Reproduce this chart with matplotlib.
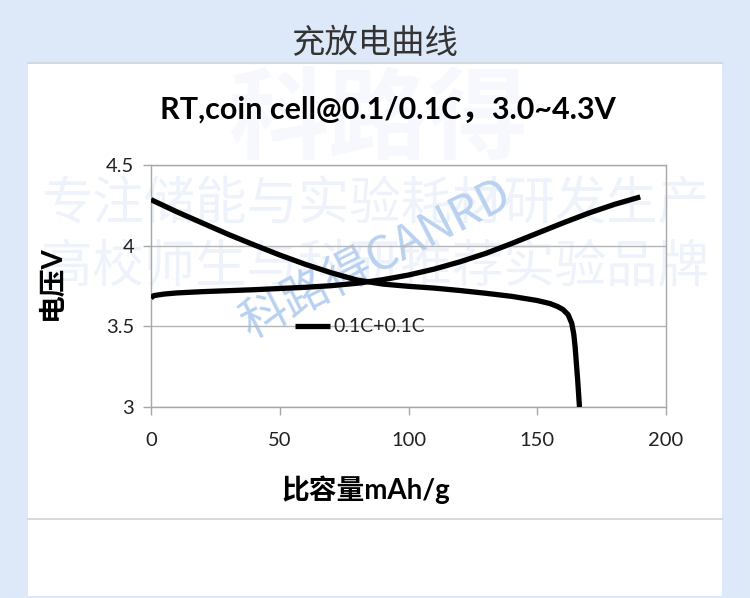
import matplotlib
matplotlib.use("Agg")
import matplotlib.pyplot as plt
from matplotlib.patches import Rectangle
from matplotlib.lines import Line2D

# ---- data ----
charge_cap = [0, 1, 5, 10, 20, 40, 60, 70, 80, 90, 100, 110, 120, 130, 140, 150, 160, 170,
              180, 190]
charge_v = [3.675, 3.69, 3.70, 3.707, 3.715, 3.727, 3.742, 3.752, 3.767, 3.789, 3.818,
            3.855, 3.90, 3.952, 4.013, 4.077, 4.141, 4.202, 4.256, 4.302]

discharge_cap = [0, 10, 20, 30, 40, 50, 60, 70, 80, 90, 100, 110, 120, 130, 140, 150, 155,
                 158, 160, 162, 163.4, 164.2, 164.7, 165.2, 165.7, 166.4]
discharge_v = [4.285, 4.21, 4.14, 4.07, 4.005, 3.942, 3.884, 3.832, 3.787, 3.762, 3.748,
               3.737, 3.722, 3.705, 3.686, 3.660, 3.641, 3.622, 3.604, 3.572, 3.519, 3.45,
               3.374, 3.27, 3.167, 3.0]

x_ticks = [0, 50, 100, 150, 200]
y_ticks = [3, 3.5, 4, 4.5]
y_tick_labels = ["3", "3.5", "4", "4.5"]
series_label = "0.1C+0.1C"

page_title = "充放电曲线"
chart_title = "RT,coin cell@0.1/0.1C，3.0~4.3V"
x_label = "比容量mAh/g"
y_label = "电压V"
wm_big = "科路得"
wm_line1 = "专注储能与实验耗材研发生产"
wm_line2 = "高校师生与科研推荐实验品牌"
wm_brand = "科路得CANRD"

LAT = ["Lato", "Noto Sans CJK SC", "DejaVu Sans"]
CJK = ["Noto Sans CJK SC", "DejaVu Sans"]

W, H = 750, 598
fig = plt.figure(figsize=(W / 100, H / 100), dpi=100)
fig.patch.set_facecolor("#dde8f8")

def fx(px):
    return px / W

def fy(py):
    return 1 - py / H

# white panel
fig.add_artist(Rectangle((fx(28), fy(596)), fx(722) - fx(28), fy(63) - fy(596),
                         transform=fig.transFigure, facecolor="white",
                         edgecolor="none", zorder=-3))
fig.add_artist(Line2D([fx(28), fx(722)], [fy(63), fy(63)], transform=fig.transFigure,
                      color="#d4d8e0", lw=1.5, zorder=-2))
fig.add_artist(Line2D([fx(28), fx(722)], [fy(519), fy(519)], transform=fig.transFigure,
                      color="#d0d3d8", lw=1.2, zorder=-2))

# watermarks
fig.text(fx(378), fy(122), wm_big, fontsize=72, family=CJK, weight="bold",
         color="#f6f8fd", ha="center", va="center", zorder=-2)
fig.text(fx(375), fy(205), wm_line1, fontsize=37, family=CJK,
         color="#edf2fb", ha="center", va="center", zorder=-2)
fig.text(fx(375), fy(268), wm_line2, fontsize=37, family=CJK,
         color="#edf2fb", ha="center", va="center", zorder=-2)
fig.text(fx(376), fy(259), wm_brand, fontsize=34, family=CJK, rotation=27,
         color="#b9d1f0", ha="center", va="center", zorder=-1)

# titles
fig.text(fx(375), fy(43), page_title, fontsize=24, family=CJK, color="#333333",
         ha="center", va="center")
fig.text(fx(388), fy(110), chart_title, fontsize=22, family=LAT, weight="bold",
         color="black", ha="center", va="center")

ax = fig.add_axes([fx(151), fy(407), fx(666) - fx(151), fy(165) - fy(407)])
ax.patch.set_alpha(0)
ax.plot(charge_cap, charge_v, color="black", lw=3.8, solid_capstyle="butt",
        solid_joinstyle="round", label=series_label, zorder=3)
ax.plot(discharge_cap, discharge_v, color="black", lw=3.8, solid_capstyle="butt",
        solid_joinstyle="round", zorder=3)
ax.set_xlim(0, 200)
ax.set_ylim(3, 4.5)
ax.set_xticks(x_ticks)
ax.set_xticklabels([str(v) for v in x_ticks])
ax.set_yticks(y_ticks)
ax.set_yticklabels(y_tick_labels)
ax.yaxis.grid(True, color="#b5b5b5", lw=1)
ax.set_axisbelow(True)
for s in ax.spines.values():
    s.set_color("#a8a8a8")
    s.set_linewidth(1)
ax.tick_params(axis="both", direction="out", length=6, width=1, color="#a8a8a8",
               labelsize=14.5, labelcolor="#222222")
ax.tick_params(axis="x", pad=12)
ax.tick_params(axis="y", pad=6)
for t in ax.get_xticklabels() + ax.get_yticklabels():
    t.set_family(LAT)

leg = ax.legend(loc="center left", bbox_to_anchor=((295 - 151) / 515, (407 - 327) / 242),
                frameon=False, handlelength=1.8, handletextpad=0.15, borderpad=0,
                borderaxespad=0, prop={"family": LAT, "size": 14})
for t in leg.get_texts():
    t.set_color("#222222")

fig.text(fx(366), fy(490), x_label, fontsize=20, family=LAT, weight="bold",
         color="black", ha="center", va="center")
fig.text(fx(52), fy(283), y_label, fontsize=20, family=LAT, weight="bold",
         color="black", ha="center", va="center", rotation=90)

fig.savefig("out.png", dpi=100, facecolor=fig.get_facecolor())
